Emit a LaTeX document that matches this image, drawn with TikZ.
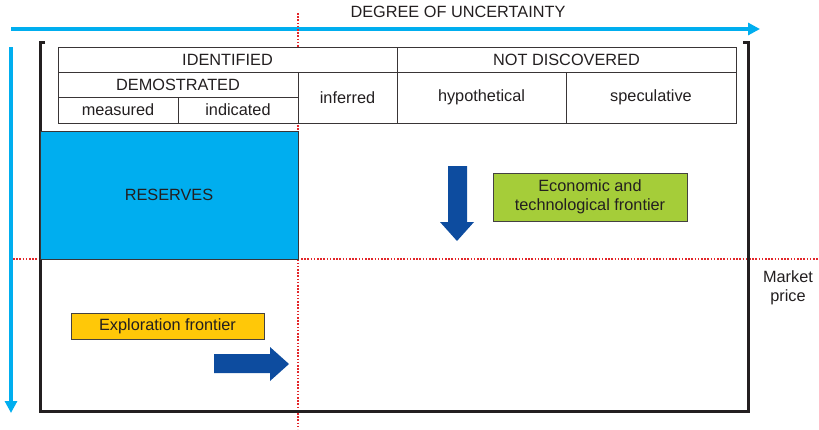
\documentclass[tikz,border=0pt]{standalone}
\usepackage{fontspec}
\setmainfont{Liberation Sans}
\usepackage{tikz}
\usetikzlibrary{arrows.meta}

\definecolor{axisblue}{HTML}{00AEEF}
\definecolor{darkblue}{HTML}{0D4C9F}
\definecolor{limegreen}{HTML}{A5CD39}
\definecolor{amber}{HTML}{FFC808}
\definecolor{dotred}{HTML}{E3262A}
\definecolor{ink}{HTML}{231F20}

\tikzset{
  txt/.style={text=ink, inner sep=0pt, font=\fontsize{16.3}{19.5}\selectfont},
  cell/.style={txt, draw=ink!90, fill=white, line width=1pt},
  tag/.style={txt, draw=ink!85, line width=1pt},
  axis/.style={axisblue, line width=4pt, -{Triangle[length=12pt,width=12pt]}},
  limit/.style={dotred, line width=1.6pt, dash pattern=on 1.6pt off 1.6pt}
}

\begin{document}
\begin{tikzpicture}[x=1pt, y=-1pt]
      \useasboundingbox (0,0) rectangle (819,429);

      %Axes
      \node[txt] (Degree) at (458,12) {DEGREE OF UNCERTAINTY};
      \coordinate (Hstart) at (11,29);
      \coordinate (Hend) at (760,29);
      \coordinate (Vstart) at (11,47);
      \coordinate (Vend) at (11,413);
      \draw[axis] (Hstart) -- (Hend);
      \draw[axis] (Vstart) -- (Vend);

      %Limites
      \coordinate (Ltop) at (298,13);
      \coordinate (Lbottom) at (298,429);
      \coordinate (Lleft) at (13,259);
      \coordinate (Lright) at (819,259);
      \draw[limit] (Ltop) -- (Lbottom);
      \draw[limit] (Lleft) -- (Lright);

      %Cadre
      \draw[ink, line width=3pt] (45,42) -- (40,42) -- (40,411) -- (748,411) -- (748,42) -- (743,42);

      %Tableau
      \node[cell, minimum width=339pt, minimum height=25pt] (Identified) at (227.5,59.5) {IDENTIFIED};
      \node[cell, minimum width=339pt, minimum height=25pt] (NotDiscovered) at (566.5,59.5) {NOT DISCOVERED};
      \node[cell, minimum width=240pt, minimum height=25pt] (Demonstrated) at (178,84.5) {DEMOSTRATED};
      \node[cell, minimum width=120pt, minimum height=26pt] (Measured) at (118,110) {measured};
      \node[cell, minimum width=120pt, minimum height=26pt] (Indicated) at (238,110) {indicated};
      \node[cell, minimum width=99pt, minimum height=51pt] (Inferred) at (347.5,97.5) {inferred};
      \node[cell, minimum width=169pt, minimum height=51pt] (Hypothetical) at (481.5,97.5) {hypothetical};
      \node[cell, minimum width=170pt, minimum height=51pt] (Speculative) at (651,97.5) {speculative};

      %Réserves
      \node[cell, fill=axisblue, minimum width=258pt, minimum height=128pt] (Reserves) at (169,195) {RESERVES};

      %Frontières
      \node[tag, fill=limegreen, minimum width=194pt, minimum height=48pt, align=center] (Economic) at (590,197) {Economic and\\technological frontier};
      \node[tag, fill=amber, minimum width=193pt, minimum height=26pt] (Exploration) at (167.5,326) {Exploration frontier};
      \node[txt, align=center] (Price) at (788,288) {Market\\price};

      %Flèches
      \fill[darkblue] (448,166) -- (467,166) -- (467,222) -- (474,222) -- (457,241) -- (440,222) -- (448,222) -- cycle;
      \fill[darkblue] (214,354) -- (270,354) -- (270,347) -- (289,364) -- (270,381) -- (270,373) -- (214,373) -- cycle;
\end{tikzpicture}
\end{document}
